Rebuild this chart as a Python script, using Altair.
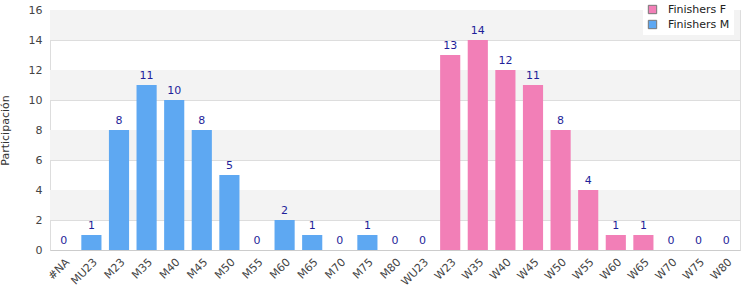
import altair as alt
import pandas as pd

categories = ["#NA", "MU23", "M23", "M35", "M40", "M45", "M50", "M55", "M60", "M65",
              "M70", "M75", "M80", "WU23", "W23", "W35", "W40", "W45", "W50", "W55",
              "W60", "W65", "W70", "W75", "W80"]
values = [0, 1, 8, 11, 10, 8, 5, 0, 2, 1, 0, 1, 0, 0, 13, 14, 12, 11, 8, 4, 1, 1, 0, 0, 0]
series = ["Finishers M"] * 13 + ["Finishers F"] * 12
series_names = ["Finishers F", "Finishers M"]
series_colors = ["#f27fb7", "#5ea8f2"]
band_lo = [14, 10, 6, 2]
band_hi = [16, 12, 8, 4]
y_ticks = [0, 2, 4, 6, 8, 10, 12, 14, 16]

df = pd.DataFrame({"cat": categories, "value": values, "serie": series})
bands = pd.DataFrame({"lo": band_lo, "hi": band_hi})

FONT = "DejaVu Sans"
yscale = alt.Scale(domain=[0, 16], nice=False)
xscale = alt.Scale(paddingInner=0.27)
yaxis = alt.Axis(values=y_ticks, title="Participación", grid=True, labelOverlap=False,
                 gridColor="#dddddd", domain=False, ticks=False,
                 labelPadding=8, labelFontSize=11, labelColor="#444444",
                 labelFont=FONT, titleFont=FONT, titleFontSize=11,
                 titleFontWeight="normal", titleColor="#333333",
                 titlePadding=18)

bg = alt.Chart(bands).mark_rect(color="#f3f3f3").encode(
    x=alt.value(0), x2=alt.value(690),
    y=alt.Y("lo:Q", scale=yscale, axis=yaxis),
    y2="hi:Q",
)

bars = alt.Chart(df).mark_bar().encode(
    x=alt.X("cat:N", sort=categories, scale=xscale,
            axis=alt.Axis(title=None, labelAngle=-45, ticks=False, labelFontSize=11,
                          labelColor="#444444", labelFont=FONT, domainColor="#cccccc",
                          labelPadding=6)),
    y=alt.Y("value:Q", scale=yscale, axis=yaxis),
    color=alt.Color("serie:N", scale=alt.Scale(domain=series_names, range=series_colors),
                    legend=alt.Legend(title=None, orient="none", legendX=593, legendY=-10,
                                      fillColor="white", padding=4, symbolType="square",
                                      symbolSize=70, symbolStrokeColor="#777777",
                                      symbolStrokeWidth=1, labelFont=FONT, labelFontSize=11,
                                      labelColor="#222222", rowPadding=2, labelOffset=10,
                                      offset=0)),
)

labels = alt.Chart(df).mark_text(baseline="bottom", dy=-4, font=FONT, fontSize=11,
                                 color="#1f1f9a").encode(
    x=alt.X("cat:N", sort=categories),
    y=alt.Y("value:Q", scale=yscale, axis=yaxis),
    text="value:Q",
)

chart = alt.layer(bg, bars, labels).properties(
    width=690, height=240,
    autosize=alt.AutoSizeParams(type="none"),
    padding={"left": 50, "top": 10, "right": 10, "bottom": 50},
).configure_view(stroke="#dddddd")

chart.save("out.html", embed_options={"renderer": "svg", "actions": False})
